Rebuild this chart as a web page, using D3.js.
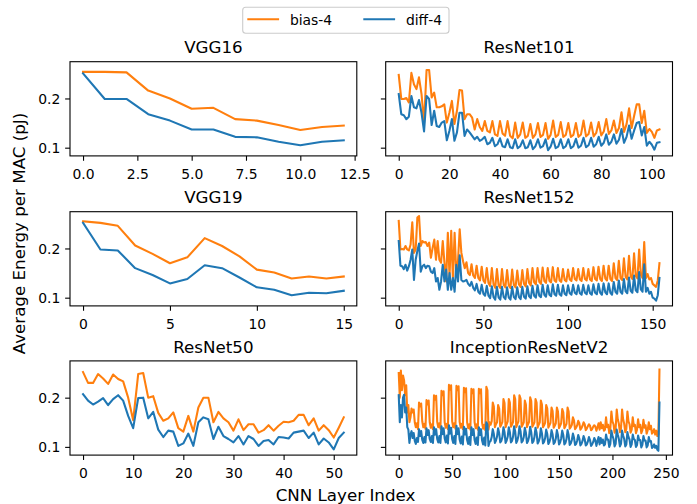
<!DOCTYPE html>
<html>
<head>
<meta charset="utf-8">
<script src="https://cdn.jsdelivr.net/npm/d3@7"></script>
<style>
  body { margin: 0; background: #fff; }
  svg { font-family: "DejaVu Sans", sans-serif; }
</style>
</head>
<body>
<svg id="chart" width="697" height="504"></svg>
<script>
// series values, one array per network and quantisation scheme
const vgg16Bias = [0.254,0.254,0.253,0.216,0.200,0.179,0.181,0.158,0.155,0.146,0.136,0.142,0.145];
const vgg16Diff = [0.251,0.199,0.199,0.168,0.155,0.137,0.137,0.122,0.121,0.112,0.105,0.112,0.115];

const vgg19Bias = [0.255,0.252,0.246,0.206,0.189,0.170,0.182,0.221,0.205,0.184,0.157,0.151,0.139,0.143,0.139,0.143];
const vgg19Diff = [0.252,0.198,0.196,0.160,0.146,0.129,0.138,0.166,0.160,0.141,0.121,0.116,0.105,0.110,0.109,0.114];

const res50Bias = [
  0.252,0.230,0.230,0.248,0.239,0.228,0.247,0.238,0.233,0.200,
  0.154,0.248,0.250,0.200,0.203,0.169,0.153,0.158,0.170,0.138,
  0.131,0.163,0.131,0.180,0.200,0.200,0.150,0.171,0.158,0.150,
  0.133,0.156,0.134,0.146,0.146,0.129,0.134,0.144,0.133,0.143,
  0.151,0.150,0.153,0.165,0.165,0.144,0.158,0.133,0.144,0.134,
  0.119,0.139,0.160];
const res50Diff = [
  0.207,0.194,0.186,0.192,0.199,0.185,0.197,0.205,0.194,0.163,
  0.138,0.199,0.200,0.158,0.171,0.135,0.120,0.133,0.131,0.102,
  0.107,0.127,0.102,0.150,0.160,0.156,0.116,0.141,0.122,0.116,
  0.109,0.122,0.105,0.122,0.116,0.102,0.112,0.114,0.105,0.120,
  0.119,0.117,0.129,0.131,0.133,0.118,0.129,0.105,0.117,0.109,
  0.095,0.118,0.129];

const res101Bias = [
  0.248,0.199,0.199,0.201,0.192,0.252,0.229,0.219,0.243,0.209,
  0.151,0.258,0.258,0.202,0.212,0.182,0.182,0.184,0.188,0.151,
  0.171,0.195,0.148,0.175,0.217,0.216,0.158,0.168,0.168,0.161,
  0.137,0.158,0.142,0.134,0.154,0.134,0.131,0.154,0.127,0.124,
  0.154,0.129,0.124,0.154,0.124,0.119,0.151,0.120,0.127,0.151,
  0.120,0.124,0.148,0.120,0.127,0.150,0.122,0.126,0.150,0.118,
  0.126,0.155,0.122,0.126,0.152,0.122,0.126,0.150,0.122,0.126,
  0.150,0.122,0.127,0.155,0.123,0.128,0.151,0.123,0.130,0.152,
  0.125,0.133,0.158,0.128,0.135,0.155,0.130,0.140,0.172,0.132,
  0.148,0.180,0.140,0.165,0.188,0.188,0.150,0.175,0.130,0.138,
  0.132,0.120,0.135,0.137];
const res101Diff = [
  0.209,0.168,0.166,0.158,0.163,0.205,0.182,0.180,0.197,0.171,
  0.133,0.205,0.199,0.146,0.175,0.144,0.142,0.151,0.154,0.115,
  0.134,0.158,0.114,0.131,0.171,0.171,0.124,0.137,0.131,0.124,
  0.117,0.122,0.114,0.117,0.122,0.107,0.110,0.120,0.103,0.107,
  0.119,0.103,0.101,0.117,0.101,0.099,0.117,0.099,0.103,0.115,
  0.099,0.101,0.115,0.097,0.103,0.117,0.100,0.103,0.117,0.095,
  0.102,0.118,0.099,0.102,0.117,0.099,0.103,0.117,0.099,0.103,
  0.118,0.100,0.104,0.120,0.101,0.105,0.120,0.102,0.107,0.122,
  0.104,0.110,0.127,0.106,0.112,0.127,0.108,0.116,0.138,0.110,
  0.122,0.145,0.118,0.135,0.150,0.152,0.125,0.142,0.104,0.112,
  0.106,0.096,0.110,0.111];

const res152Bias = [
  0.256,0.198,0.199,0.198,0.205,0.198,0.196,0.208,0.253,0.191,
  0.198,0.263,0.266,0.205,0.215,0.212,0.213,0.205,0.212,0.181,
  0.201,0.218,0.177,0.215,0.177,0.171,0.215,0.171,0.133,0.232,
  0.143,0.236,0.136,0.232,0.150,0.174,0.239,0.191,0.174,0.160,
  0.172,0.150,0.146,0.168,0.145,0.140,0.165,0.140,0.135,0.163,
  0.135,0.130,0.160,0.130,0.124,0.160,0.127,0.120,0.158,0.125,
  0.120,0.158,0.126,0.121,0.156,0.125,0.120,0.157,0.126,0.121,
  0.155,0.127,0.122,0.156,0.128,0.123,0.158,0.130,0.125,0.160,
  0.131,0.127,0.160,0.132,0.128,0.161,0.134,0.130,0.160,0.134,
  0.131,0.162,0.135,0.132,0.160,0.135,0.132,0.158,0.136,0.133,
  0.157,0.137,0.134,0.160,0.138,0.135,0.158,0.137,0.134,0.160,
  0.138,0.135,0.158,0.137,0.134,0.162,0.138,0.135,0.163,0.138,
  0.134,0.165,0.139,0.135,0.165,0.138,0.134,0.170,0.140,0.136,
  0.175,0.140,0.136,0.180,0.142,0.137,0.185,0.143,0.138,0.190,
  0.144,0.139,0.198,0.146,0.140,0.213,0.140,0.148,0.137,0.140,
  0.128,0.125,0.122,0.135,0.170];
const res152Diff = [
  0.215,0.165,0.164,0.158,0.167,0.155,0.164,0.177,0.198,0.136,
  0.177,0.195,0.210,0.153,0.164,0.167,0.160,0.165,0.164,0.153,
  0.150,0.160,0.133,0.140,0.116,0.133,0.167,0.133,0.157,0.116,
  0.150,0.116,0.140,0.112,0.167,0.133,0.186,0.136,0.133,0.134,
  0.136,0.128,0.124,0.132,0.120,0.115,0.128,0.112,0.108,0.126,
  0.108,0.104,0.124,0.104,0.099,0.123,0.101,0.096,0.122,0.100,
  0.096,0.122,0.101,0.097,0.121,0.100,0.096,0.122,0.101,0.097,
  0.121,0.101,0.097,0.122,0.102,0.098,0.123,0.103,0.099,0.124,
  0.104,0.100,0.125,0.104,0.101,0.126,0.106,0.102,0.125,0.106,
  0.103,0.127,0.107,0.104,0.126,0.107,0.104,0.125,0.108,0.105,
  0.125,0.109,0.106,0.126,0.110,0.107,0.125,0.109,0.106,0.126,
  0.110,0.107,0.125,0.109,0.106,0.127,0.110,0.107,0.128,0.110,
  0.106,0.129,0.111,0.107,0.129,0.110,0.106,0.132,0.112,0.108,
  0.135,0.112,0.108,0.138,0.113,0.109,0.141,0.114,0.110,0.145,
  0.115,0.111,0.152,0.117,0.112,0.168,0.112,0.120,0.108,0.112,
  0.100,0.098,0.094,0.105,0.140];

const incBias = [
  0.250,0.200,0.255,0.215,0.245,0.235,0.205,0.225,0.170,0.185,0.150,0.160,
  0.178,0.170,0.176,0.150,0.140,0.148,0.136,
  0.190,0.182,0.188,0.152,0.140,0.147,0.137,
  0.195,0.186,0.194,0.150,0.139,0.146,0.136,
  0.205,0.196,0.204,0.151,0.140,0.148,0.137,
  0.214,0.205,0.213,0.150,0.139,0.147,0.136,
  0.226,0.216,0.225,0.152,0.140,0.148,0.137,
  0.224,0.215,0.223,0.151,0.139,0.147,0.136,
  0.220,0.211,0.219,0.150,0.138,0.146,0.135,
  0.218,0.209,0.217,0.150,0.138,0.146,0.135,
  0.218,0.209,0.217,0.149,0.137,0.145,0.134,
  0.222,0.215,0.135,0.150,
  0.145,0.152,0.190,0.182,0.140, 0.146,0.150,0.185,0.178,0.141,
  0.145,0.151,0.197,0.189,0.140, 0.146,0.152,0.197,0.190,0.141,
  0.145,0.151,0.205,0.197,0.140, 0.146,0.152,0.205,0.198,0.141,
  0.145,0.150,0.194,0.186,0.140, 0.146,0.151,0.201,0.193,0.141,
  0.145,0.150,0.197,0.190,0.139, 0.145,0.150,0.194,0.186,0.140,
  0.144,0.149,0.185,0.178,0.139, 0.144,0.149,0.180,0.173,0.139,
  0.143,0.148,0.180,0.172,0.138, 0.143,0.148,0.177,0.170,0.138,
  0.142,0.147,0.180,0.172,0.137, 0.140,0.145,0.160,0.154,0.136,
  0.139,0.144,0.153,0.148,0.135, 0.138,0.143,0.150,0.146,0.134,
  0.137,0.142,0.146,0.143,0.134, 0.136,0.141,0.144,0.141,0.133,
  0.140,0.148,0.135,0.150,0.138,0.145,0.133,
  0.135,0.160,0.140,0.145,0.128, 0.136,0.172,0.152,0.146,0.129,
  0.137,0.176,0.156,0.147,0.130, 0.137,0.176,0.156,0.147,0.130,
  0.136,0.172,0.152,0.146,0.129, 0.135,0.160,0.142,0.145,0.128,
  0.135,0.156,0.140,0.145,0.128, 0.134,0.155,0.139,0.144,0.127,
  0.134,0.150,0.136,0.143,0.127, 0.130,0.136,0.125,0.133,0.122,
  0.125,0.257];
const incDiff = [
  0.205,0.150,0.185,0.160,0.200,0.206,0.170,0.180,0.140,0.135,0.108,0.125,
  0.132,0.118,0.128,0.112,0.106,0.118,0.110,
  0.136,0.122,0.132,0.114,0.108,0.120,0.109,
  0.138,0.124,0.134,0.116,0.110,0.122,0.108,
  0.140,0.125,0.136,0.116,0.109,0.122,0.108,
  0.142,0.126,0.138,0.117,0.109,0.123,0.107,
  0.144,0.127,0.139,0.116,0.108,0.122,0.106,
  0.143,0.126,0.138,0.115,0.107,0.121,0.105,
  0.141,0.125,0.137,0.114,0.106,0.120,0.104,
  0.140,0.124,0.136,0.114,0.106,0.119,0.104,
  0.140,0.124,0.136,0.113,0.105,0.119,0.103,
  0.150,0.145,0.102,0.110,
  0.112,0.120,0.136,0.126,0.108, 0.113,0.121,0.138,0.128,0.109,
  0.112,0.120,0.140,0.130,0.108, 0.113,0.121,0.140,0.130,0.109,
  0.112,0.121,0.142,0.131,0.108, 0.113,0.122,0.142,0.132,0.109,
  0.112,0.120,0.139,0.129,0.108, 0.112,0.121,0.141,0.130,0.108,
  0.111,0.120,0.139,0.129,0.107, 0.111,0.119,0.138,0.128,0.107,
  0.110,0.118,0.135,0.126,0.106, 0.110,0.118,0.134,0.125,0.106,
  0.109,0.117,0.134,0.124,0.105, 0.109,0.117,0.133,0.124,0.105,
  0.108,0.116,0.134,0.124,0.104, 0.107,0.114,0.127,0.119,0.104,
  0.106,0.113,0.124,0.117,0.103, 0.106,0.112,0.122,0.116,0.103,
  0.105,0.111,0.120,0.114,0.102, 0.105,0.110,0.118,0.113,0.102,
  0.112,0.120,0.105,0.118,0.108,0.115,0.103,
  0.105,0.125,0.115,0.115,0.100, 0.106,0.133,0.123,0.116,0.101,
  0.106,0.135,0.125,0.116,0.101, 0.106,0.133,0.123,0.116,0.101,
  0.105,0.130,0.120,0.115,0.100, 0.105,0.125,0.116,0.114,0.100,
  0.104,0.123,0.114,0.114,0.099, 0.104,0.122,0.113,0.113,0.099,
  0.103,0.120,0.111,0.112,0.098, 0.100,0.105,0.098,0.102,0.094,
  0.092,0.190];

// tick labels
const yTicks = [0.1, 0.2];
const vgg16Ticks = [0, 2.5, 5, 7.5, 10, 12.5];
const vgg19Ticks = [0, 5, 10, 15];
const res50Ticks = [0, 10, 20, 30, 40, 50];
const res101Ticks = [0, 20, 40, 60, 80, 100];
const res152Ticks = [0, 50, 100, 150];
const incTicks = [0, 50, 100, 150, 200, 250];

const seriesNames = ['bias-4', 'diff-4'];
const colors = ['#ff7f0e', '#1f77b4'];

const panels = [
  { title: 'VGG16', bias: vgg16Bias, diff: vgg16Diff, ticks: vgg16Ticks, fmt: d3.format('.1f'), row: 0, col: 0 },
  { title: 'ResNet101', bias: res101Bias, diff: res101Diff, ticks: res101Ticks, fmt: d3.format('d'), row: 0, col: 1 },
  { title: 'VGG19', bias: vgg19Bias, diff: vgg19Diff, ticks: vgg19Ticks, fmt: d3.format('d'), row: 1, col: 0 },
  { title: 'ResNet152', bias: res152Bias, diff: res152Diff, ticks: res152Ticks, fmt: d3.format('d'), row: 1, col: 1 },
  { title: 'ResNet50', bias: res50Bias, diff: res50Diff, ticks: res50Ticks, fmt: d3.format('d'), row: 2, col: 0 },
  { title: 'InceptionResNetV2', bias: incBias, diff: incDiff, ticks: incTicks, fmt: d3.format('d'), row: 2, col: 1 }
];

// layout (px)
const colX = [70, 385.7];
const rowY = [61.7, 211.7, 360.9];
const axW = 286.8, axH = 94.2;
const tickLen = 4.86, tickPad = 4.86;
const lineW = 2.08, spineW = 1.1;

const svg = d3.select('#chart');

// all panels share the y axis, matplotlib style 5% margins
const allVals = panels.flatMap(p => p.bias.concat(p.diff));
const [yMin, yMax] = d3.extent(allVals);
const yPad = (yMax - yMin) * 0.05;

panels.forEach(p => {
  const x0 = colX[p.col], y0 = rowY[p.row];
  const n = p.bias.length - 1;
  const x = d3.scaleLinear([-0.05 * n, n * 1.05], [0, axW]);
  const y = d3.scaleLinear([yMin - yPad, yMax + yPad], [axH, 0]);

  const g = svg.append('g').attr('transform', `translate(${x0},${y0})`);

  const line = d3.line()
    .x((d, i) => x(i))
    .y(d => y(d));

  [p.bias, p.diff].forEach((vals, k) => {
    g.append('path')
      .datum(vals)
      .attr('d', line)
      .attr('fill', 'none')
      .attr('stroke', colors[k])
      .attr('stroke-width', lineW)
      .attr('stroke-linejoin', 'round')
      .attr('stroke-linecap', 'square');
  });

  // x axis
  const xAxis = g.append('g')
    .attr('transform', `translate(0,${axH})`)
    .call(d3.axisBottom(x).tickValues(p.ticks).tickFormat(p.fmt)
      .tickSize(tickLen).tickPadding(tickPad));
  xAxis.select('.domain').remove();
  xAxis.selectAll('line').attr('stroke', '#000').attr('stroke-width', spineW);
  xAxis.selectAll('text')
    .attr('dy', '0.93em')
    .attr('font-size', 13.9)
    .attr('font-family', '"DejaVu Sans", sans-serif')
    .attr('fill', '#000');

  // y axis, labels only on the left column
  const yAxis = g.append('g')
    .call(d3.axisLeft(y).tickValues(yTicks)
      .tickFormat(p.col === 0 ? d3.format('.1f') : () => '')
      .tickSize(tickLen).tickPadding(tickPad));
  yAxis.select('.domain').remove();
  yAxis.selectAll('line').attr('stroke', '#000').attr('stroke-width', spineW);
  yAxis.selectAll('text')
    .attr('dy', '0.36em')
    .attr('font-size', 13.9)
    .attr('font-family', '"DejaVu Sans", sans-serif')
    .attr('fill', '#000');

  // frame
  g.append('rect')
    .attr('width', axW)
    .attr('height', axH)
    .attr('fill', 'none')
    .attr('stroke', '#000')
    .attr('stroke-width', spineW);

  g.append('text')
    .attr('x', axW / 2)
    .attr('y', -8.3)
    .attr('text-anchor', 'middle')
    .attr('font-size', 16.7)
    .text(p.title);
});

// shared axis labels
svg.append('text')
  .attr('x', 345.5)
  .attr('y', 500.5)
  .attr('text-anchor', 'middle')
  .attr('font-size', 16.7)
  .text('CNN Layer Index');

svg.append('text')
  .attr('transform', 'translate(24.5,233.5) rotate(-90)')
  .attr('text-anchor', 'middle')
  .attr('font-size', 16.7)
  .text('Average Energy per MAC (pJ)');

// legend
const legend = svg.append('g');
legend.append('rect')
  .attr('x', 242.7).attr('y', 7.3)
  .attr('width', 206.3).attr('height', 26)
  .attr('rx', 3)
  .attr('fill', '#fff').attr('fill-opacity', 0.8)
  .attr('stroke', '#cccccc').attr('stroke-width', 1.1);

const legX = [247.3, 363.3];
seriesNames.forEach((name, k) => {
  legend.append('line')
    .attr('x1', legX[k]).attr('x2', legX[k] + 31.8)
    .attr('y1', 19.3).attr('y2', 19.3)
    .attr('stroke', colors[k])
    .attr('stroke-width', lineW);
  legend.append('text')
    .attr('x', legX[k] + 42.6)
    .attr('y', 24.6)
    .attr('font-size', 13.9)
    .text(name);
});
</script>
</body>
</html>
